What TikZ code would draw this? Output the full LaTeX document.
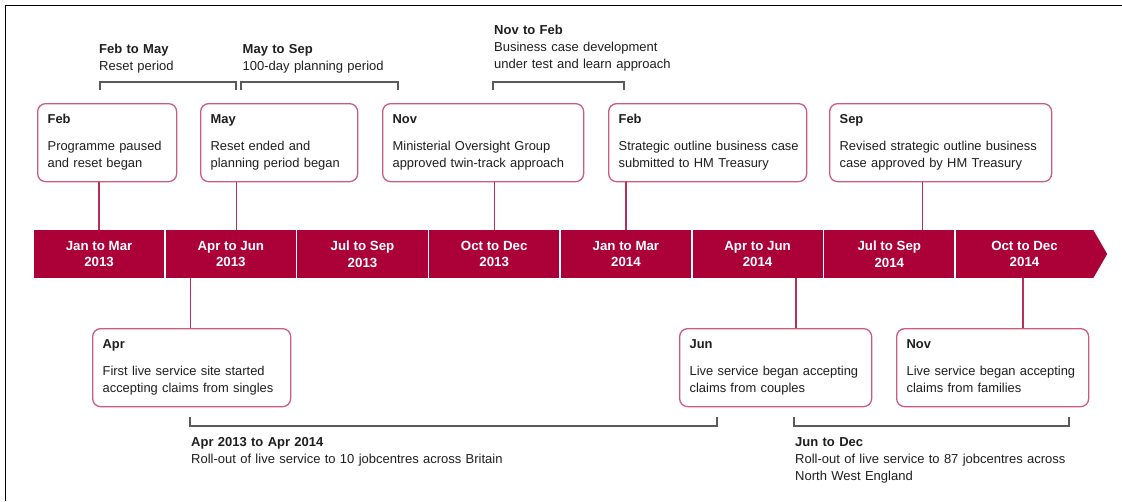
\documentclass[tikz,border=0pt]{standalone}
\usepackage{fontspec}
\setmainfont{Liberation Sans}
\definecolor{barred}{RGB}{172,0,56}
\definecolor{boxedge}{RGB}{204,92,124}
\definecolor{stemred}{RGB}{184,48,90}
\definecolor{ink}{RGB}{30,30,30}
\definecolor{bracketgrey}{RGB}{90,90,90}
\newcommand{\lastdepth}{\rule[-2.9pt]{0pt}{1pt}}
\begin{document}
\begin{tikzpicture}[x=1pt,y=-1pt]
\tikzset{
  seg/.style={fill=barred, text=white, font=\bfseries\fontsize{13.3}{16.7}\selectfont,
    align=center, minimum width=130.2pt, minimum height=48pt, inner sep=0pt},
  event/.style={draw=boxedge, line width=1.3pt, rounded corners=8pt, fill=white,
    anchor=north west, inner xsep=10pt, inner ysep=0pt, minimum height=78pt,
    font=\fontsize{12.9}{17}\selectfont, text=ink, align=left,
    execute at begin node={\hyphenpenalty=10000\exhyphenpenalty=10000\hbadness=10000\hfuzz=10pt}},
  stem/.style={draw=stemred, line width=1.3pt},
  brace/.style={draw=bracketgrey, line width=1.5pt},
  note/.style={anchor=base west, inner sep=0pt, align=left, text=ink, text width=400pt,
    font=\fontsize{13}{17}\selectfont,
    execute at begin node={\hyphenpenalty=10000\exhyphenpenalty=10000}},
}
\useasboundingbox (0,0) rectangle (1122,501);

% frame
\draw[line width=1.5pt] (1122,5.5) -- (5.5,5.5) -- (5.5,501);

% quarter bar
\foreach \i/\lbl in {1/{Jan to Mar\\2013},2/{Apr to Jun\\2013},3/{Jul to Sep\\2013},
  4/{Oct to Dec\\2013},5/{Jan to Mar\\2014},6/{Apr to Jun\\2014},7/{Jul to Sep\\2014}}
  \node[seg] (seg\i) at ({34+131.7*(\i-1)+65.1},254) {\lbl};
\node[seg, minimum width=137pt] (seg8) at (1024.5,254) {Oct to Dec\\2014};
\fill[barred] (seg8.north east) -- ([xshift=14pt]seg8.east) -- (seg8.south east) -- cycle;

% events above the bar
\node[event, text width=119pt] (feb) at (37,103)
  {\textbf{Feb}\\[10pt]Programme paused\\and reset began};
\node[event, text width=137pt] (may) at (200,103)
  {\textbf{May}\\[10pt]Reset ended and\\planning period began};
\node[event, text width=181pt] (nov) at (382,103)
  {\textbf{Nov}\\[10pt]Ministerial Oversight Group\\approved twin-track approach};
\node[event, text width=178pt] (febb) at (608,103)
  {\textbf{Feb}\\[10pt]\mbox{Strategic outline business case}\\submitted to HM Treasury};
\node[event, text width=202pt] (sep) at (829,103)
  {\textbf{Sep}\\[10pt]Revised strategic outline business\\case approved by HM Treasury};

% events below the bar
\node[event, text width=178pt] (apr) at (92,328)
  {\textbf{Apr}\\[10pt]First live service site started\\accepting claims from singles};
\node[event, text width=172pt] (jun) at (679,328)
  {\textbf{Jun}\\[10pt]Live service began accepting\\claims from couples};
\node[event, text width=172pt] (novb) at (896,328)
  {\textbf{Nov}\\[10pt]Live service began accepting\\claims from families\lastdepth};

% stems from the bar to the events
\coordinate (sFeb) at (seg1.north);
\coordinate (sMay) at ([xshift=6pt]seg2.north);
\coordinate (sNov) at (seg4.north);
\coordinate (sFebb) at (seg5.north);
\coordinate (sSep) at ([xshift=33.5pt]seg7.north);
\coordinate (sApr) at ([xshift=-40pt]seg2.south);
\coordinate (sJun) at ([xshift=38.5pt]seg6.south);
\coordinate (sNovb) at ([xshift=-1.5pt]seg8.south);
\draw[stem] (sFeb) -- (sFeb |- feb.south);
\draw[stem] (sMay) -- (sMay |- may.south);
\draw[stem] (sNov) -- (sNov |- nov.south);
\draw[stem] (sFebb) -- (sFebb |- febb.south);
\draw[stem] (sSep) -- (sSep |- sep.south);
\draw[stem] (sApr) -- (sApr |- apr.north);
\draw[stem] (sJun) -- (sJun |- jun.north);
\draw[stem] (sNovb) -- (sNovb |- novb.north);

% period brackets
\draw[brace] (100,90) -- (100,82) -- (236,82) -- (236,90);
\draw[brace] (241,90) -- (241,82) -- (398,82) -- (398,90);
\draw[brace] (493,90) -- (493,82) -- (624,82) -- (624,90);
\draw[brace] (190,417) -- (190,426) -- (717,426) -- (717,417);
\draw[brace] (794,417) -- (794,426) -- (1069,426) -- (1069,417);

% period labels
\node[note] (pReset) at (99,53.3) {\textbf{Feb to May}\\Reset period};
\node[note] (pPlan) at (242.5,53.3) {\textbf{May to Sep}\\100-day planning period};
\node[note] (pBiz) at (494,34.3)
  {\textbf{Nov to Feb}\\Business case development\\under test and learn approach};
\node[note] (pRoll) at (191,446.7)
  {\textbf{Apr 2013 to Apr 2014}\\Roll-out of live service to 10 jobcentres across Britain};
\node[note, text width=300pt] (pNW) at (795,446.7)
  {\textbf{Jun to Dec}\\Roll-out of live service to 87 jobcentres across\\North West England};
\end{tikzpicture}
\end{document}
